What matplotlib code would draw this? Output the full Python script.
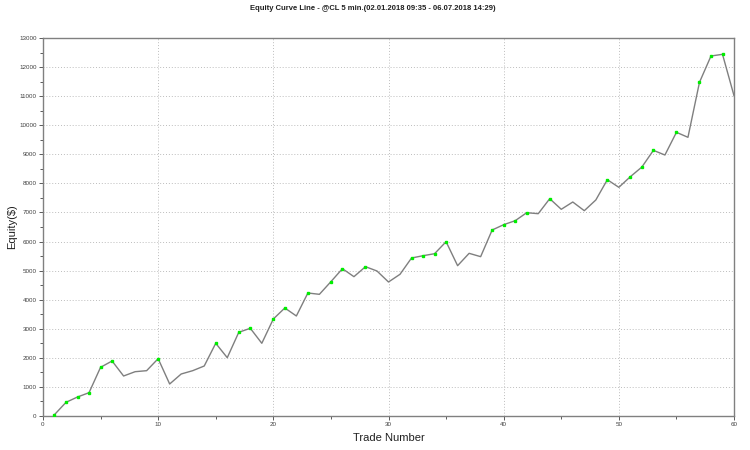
import matplotlib
matplotlib.use("Agg")
import matplotlib.pyplot as plt
from matplotlib.ticker import MultipleLocator
import numpy as np

plt.rcParams['font.family'] = ['Liberation Sans', 'DejaVu Sans']

trades = list(range(1, 61))
equity = [46, 470, 653, 802, 1674, 1891, 1375, 1523, 1558, 1971,
          1100, 1444, 1558, 1719, 2500, 2005, 2878, 3016, 2500, 3336,
          3714, 3439, 4230, 4184, 4619, 5066, 4791, 5135, 4986, 4608,
          4873, 5433, 5512, 5581, 5994, 5169, 5594, 5479, 6396, 6579,
          6716, 6991, 6957, 7473, 7108, 7359, 7060, 7428, 8126, 7864,
          8230, 8562, 9136, 8975, 9756, 9584, 11475, 12380, 12438, 11014]

title = "Equity Curve Line - @CL 5 min.(02.01.2018 09:35 - 06.07.2018 14:29)"
xlabel = "Trade Number"
ylabel = "Equity($)"

fig = plt.figure(figsize=(7.5, 4.5), dpi=100)
ax = fig.add_axes([0.0573, 0.0756, 0.9214, 0.84])

ax.plot(trades, equity, color='#7f7f7f', lw=1.0, zorder=3)
eq = np.array(equity)
runmax = np.maximum.accumulate(eq)
highs = eq >= runmax
ax.plot(np.array(trades)[highs], eq[highs], linestyle='none', marker='s',
        markersize=1.5, color='#00ee00', zorder=4)

ax.set_xlim(0, 60)
ax.set_ylim(0, 13000)
ax.xaxis.set_major_locator(MultipleLocator(10))
ax.xaxis.set_minor_locator(MultipleLocator(5))
ax.yaxis.set_major_locator(MultipleLocator(1000))
ax.yaxis.set_minor_locator(MultipleLocator(500))
ax.grid(True, which='major', linestyle=(0, (1, 2)), color='#bdbdbd', lw=0.7)
ax.tick_params(which='both', direction='out', labelsize=4.5, colors='#404040',
               length=3, width=0.6, pad=1.5)
ax.tick_params(which='minor', length=2)
for s in ax.spines.values():
    s.set_color('#808080')
    s.set_linewidth(1.0)

ax.set_xlabel(xlabel, fontsize=8, color='#202020', labelpad=4)
ax.set_ylabel(ylabel, fontsize=8, color='#202020', labelpad=4)
ax.yaxis.set_label_coords(-0.038, 0.5)
fig.text(0.497, 0.982, title, ha='center', va='center', fontsize=5.5,
         fontweight='bold', color='#202020')

fig.savefig('out.png', dpi=100)
